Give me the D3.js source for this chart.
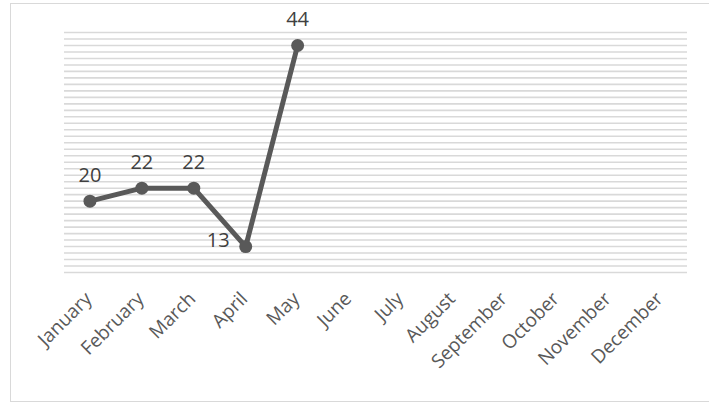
<!DOCTYPE html>
<html>
<head>
<meta charset="utf-8">
<script src="https://cdn.jsdelivr.net/npm/d3@7"></script>
<style>
  body { margin: 0; background: #fff; }
  svg { display: block; font-family: "Open Sans", "Noto Sans", sans-serif; }
</style>
</head>
<body>
<div id="chart"></div>
<script>
const months = ['January', 'February', 'March', 'April', 'May', 'June', 'July',
  'August', 'September', 'October', 'November', 'December'];
const values = [20, 22, 22, 13, 44];
const yDomain = [9, 46];

const width = 709;
const height = 402;

const svg = d3.select('#chart')
  .append('svg')
  .attr('width', width)
  .attr('height', height);

// Chart frame
svg.append('rect')
  .attr('x', 10.5)
  .attr('y', 3.5)
  .attr('width', 700)
  .attr('height', 398)
  .attr('fill', '#fff')
  .attr('stroke', '#d9d9d9')
  .attr('stroke-width', 1);

const x = d3.scaleBand()
  .domain(months)
  .range([64, 687]);

const y = d3.scaleLinear()
  .domain(yDomain)
  .range([272.5, 32.5]);

// Gridlines every unit
svg.append('g')
  .selectAll('line')
  .data(d3.range(yDomain[0], yDomain[1] + 1))
  .enter()
  .append('line')
  .attr('x1', 64)
  .attr('x2', 687)
  .attr('y1', d => y(d))
  .attr('y2', d => y(d))
  .attr('stroke', '#d9d9d9')
  .attr('stroke-width', 1.6);

// Month labels
svg.append('g')
  .selectAll('text')
  .data(months)
  .enter()
  .append('text')
  .attr('transform', d => `translate(${x(d) + x.bandwidth() / 2 + 3},${300}) rotate(-45)`)
  .attr('text-anchor', 'end')
  .attr('fill', '#595959')
  .attr('font-size', '19px')
  .text(d => d);

const points = values.map((v, i) => ({ month: months[i], value: v }));
const cx = d => x(d.month) + x.bandwidth() / 2;

const line = d3.line()
  .x(cx)
  .y(d => y(d.value));

svg.append('path')
  .datum(points)
  .attr('d', line)
  .attr('fill', 'none')
  .attr('stroke', '#595959')
  .attr('stroke-width', 5)
  .attr('stroke-linejoin', 'round');

svg.append('g')
  .selectAll('circle')
  .data(points)
  .enter()
  .append('circle')
  .attr('cx', cx)
  .attr('cy', d => y(d.value))
  .attr('r', 6.5)
  .attr('fill', '#595959');

// Data labels, the dip sits on the left
svg.append('g')
  .selectAll('text')
  .data(points)
  .enter()
  .append('text')
  .attr('x', d => d.value === 13 ? cx(d) - 16 : cx(d))
  .attr('y', d => d.value === 13 ? y(d.value) : y(d.value) - 19)
  .attr('text-anchor', d => d.value === 13 ? 'end' : 'middle')
  .attr('fill', '#404040')
  .attr('font-size', '20px')
  .text(d => d.value);
</script>
</body>
</html>
